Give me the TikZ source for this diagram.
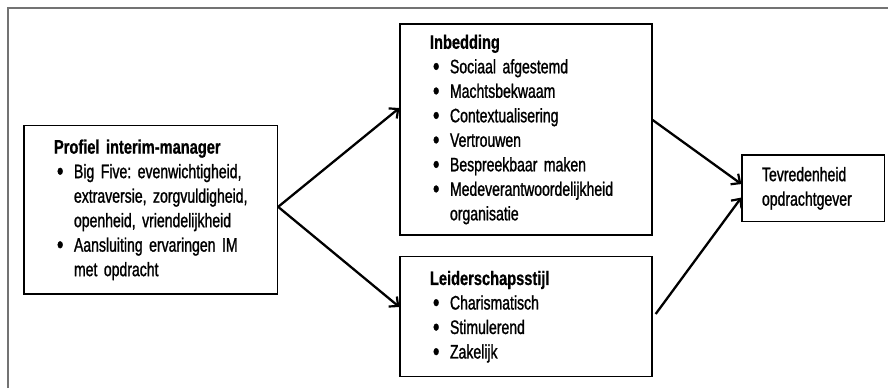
\documentclass[tikz,border=0pt]{standalone}
\usepackage{fontspec}
\usepackage{graphicx}
\setmainfont{Liberation Sans}[FakeStretch=0.72,FakeBold=1.2]
\newfontfamily\headfont{Liberation Sans}[FakeStretch=0.75,FakeBold=0.8]
\usetikzlibrary{arrows.meta}
\newcommand\hd[1]{\mbox{\headfont\bfseries #1}}
\newcommand\bul{\makebox[20pt][l]{\hspace{3pt}\raisebox{-0.08em}{\scalebox{1.3}{\textbullet}}}}
\newcommand\cont{\hspace*{20pt}}
\tikzset{
  box/.style={draw=black, line width=1.3pt, fill=white, rectangle, align=left,
    font=\fontsize{19.5}{24.5}\selectfont\frenchspacing, inner ysep=2pt},
  conn/.style={line width=2.3pt, -{Straight Barb[length=7pt,width=13pt,line width=2.2pt]}},
  frame/.style={draw=black!55, line width=1.5pt}
}
\begin{document}
\begin{tikzpicture}[x=1pt,y=-1pt]
\path[use as bounding box] (0,0) rectangle (888,388);
\draw[frame] (8,388) -- (8,8) -- (888,8);

\node[box, minimum width=253.5pt, minimum height=168.3pt, text width=193.5pt, inner xsep=30pt] (prof) at (150.75,209.85)
 {\hd{Profiel interim-manager}\\
  \mbox{\bul Big Five: evenwichtigheid,}\\
  \mbox{\cont extraversie, zorgvuldigheid,}\\
  \mbox{\cont openheid, vriendelijkheid}\\
  \mbox{\bul Aansluiting ervaringen IM}\\
  \mbox{\cont met opdracht}};

\node[box, minimum width=252pt, minimum height=211pt, text width=192pt, inner xsep=30pt] (inb) at (526,129.5)
 {\hd{Inbedding}\\
  \mbox{\bul Sociaal afgestemd}\\
  \mbox{\bul Machtsbekwaam}\\
  \mbox{\bul Contextualisering}\\
  \mbox{\bul Vertrouwen}\\
  \mbox{\bul Bespreekbaar maken}\\
  \mbox{\bul Medeverantwoordelijkheid}\\
  \mbox{\cont organisatie}};

\node[box, minimum width=252pt, minimum height=120pt, text width=192pt, inner xsep=30pt] (lead) at (526,316.7)
 {\hd{Leiderschapsstijl}\\
  \mbox{\bul Charismatisch}\\
  \mbox{\bul Stimulerend}\\
  \mbox{\bul Zakelijk}};

\node[box, minimum width=142.5pt, minimum height=66.7pt, text width=102.5pt, inner xsep=20pt] (tev) at (813.25,188.35)
 {Tevredenheid\\opdrachtgever};

\coordinate (split) at ([yshift=3pt]prof.east);
\draw[conn] (split) -- ([yshift=21.5pt]inb.west);
\draw[conn] (split) -- ([yshift=9.7pt]lead.west);
\draw[conn] ([yshift=9.5pt]inb.east) -- ([yshift=4.3pt]tev.west);
\draw[conn] ([xshift=3pt,yshift=2.7pt]lead.east) -- ([yshift=-9.2pt]tev.west);
\end{tikzpicture}
\end{document}
